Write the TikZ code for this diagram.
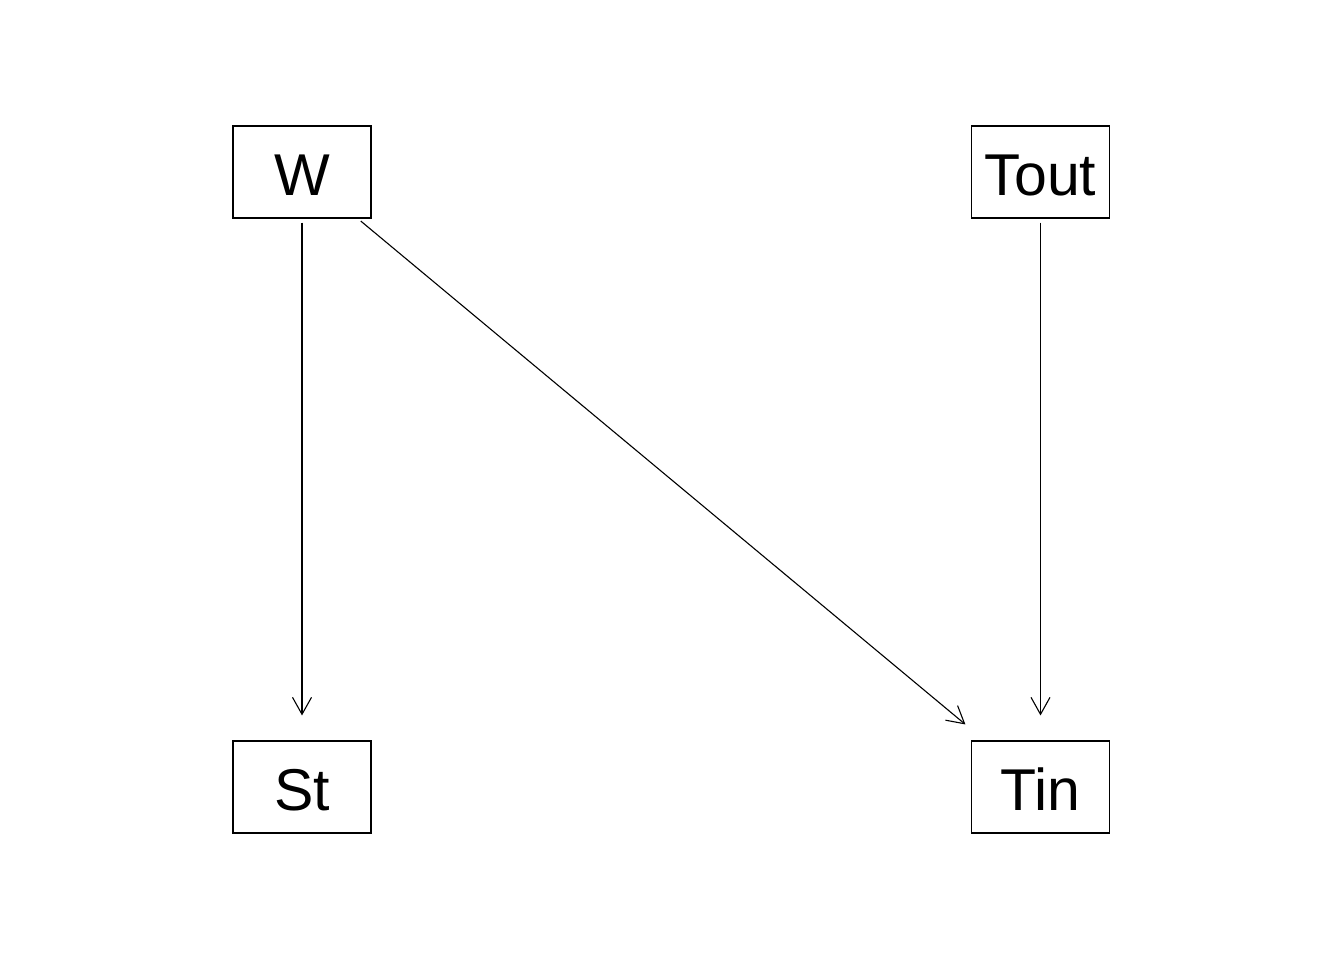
\documentclass[tikz,border=0pt]{standalone}
\usepackage{fontspec}
\setmainfont{Liberation Sans}
\usetikzlibrary{arrows.meta}
\begin{document}
\begin{tikzpicture}[x=0.5pt,y=-0.5pt,
  var/.style={draw, line width=0.55pt, minimum width=69pt, minimum height=46pt, inner sep=0pt, text height=23.6pt, text depth=0pt, font=\fontsize{29.5}{33}\selectfont},
  conn/.style={line width=0.55pt, -{Straight Barb[length=8.5pt, width=9.5pt, line width=0.55pt]}, shorten <=2pt, shorten >=12.5pt}]
\useasboundingbox (0,0) rectangle (1344,960);
\node[var] (W) at (302,172) {W};
\node[var] (Tout) at (1040.5,172) {Tout};
\node[var] (St) at (302,787) {St};
\node[var] (Tin) at (1040.5,787) {Tin};
\draw[conn] (W) -- (St);
\draw[conn] (W) -- (Tin);
\draw[conn] (Tout) -- (Tin);
\end{tikzpicture}
\end{document}
